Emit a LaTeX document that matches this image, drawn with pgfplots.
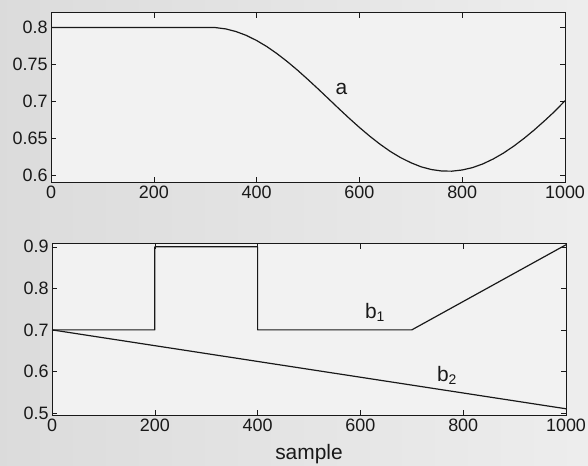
\documentclass[border=0pt]{standalone}
\usepackage{fontspec}
\setmainfont{Liberation Sans}
\usepackage{pgfplots}
\pgfplotsset{compat=1.18}

\definecolor{ink}{rgb}{0.1,0.1,0.1}
\definecolor{paperL}{rgb}{0.86,0.86,0.86}
\definecolor{paperR}{rgb}{0.93,0.93,0.93}
\definecolor{panel}{rgb}{0.95,0.95,0.95}

\tikzset{
  curvelabel/.style={font=\fontsize{21}{24}\selectfont, text=ink},
  curve/.style={draw=ink, line width=1.2pt, line join=round, mark=none},
}

\pgfplotsset{
  panelaxis/.style={
    scale only axis,
    width=514bp,
    xmin=0, xmax=1000,
    xtick={0,200,...,1000},
    tick align=inside,
    major tick length=5bp,
    tick style={ink, line width=0.6pt},
    axis line style={ink, line width=0.8pt},
    tick label style={font=\fontsize{18}{21}\selectfont, text=ink},
    /pgf/number format/assume math mode=true,
    /pgf/number format/1000 sep={},
    scaled ticks=false,
    axis background/.style={fill=panel},
    clip=false,
  },
}

\newcommand{\sub}[1]{\raisebox{-3bp}{\fontsize{14}{14}\selectfont #1}}

\begin{document}
\begin{tikzpicture}[x=1bp,y=1bp]
\shade[left color=paperL, right color=paperR] (0,0) rectangle (588,-466);
\path[use as bounding box] (0,0) rectangle (588,-466);

% upper panel: parameter a
\begin{axis}[panelaxis,
  at={(51bp,-12.7bp)}, anchor=north west,
  height=169.6bp,
  ymin=0.59, ymax=0.82,
  ytick={0.6,0.65,0.7,0.75,0.8},
  yticklabels={0.6,0.65,0.7,0.75,0.8},
]
\addplot[curve] coordinates {
 (0,0.8) (300,0.8) (310,0.8) (320,0.7998) (340,0.7980) (360,0.7944)
 (380,0.7892) (400,0.7823) (420,0.7740) (440,0.7643) (460,0.7535)
 (480,0.7418) (500,0.7293) (520,0.7164) (540,0.7032) (560,0.6899)
 (580,0.6769) (600,0.6644) (620,0.6526) (640,0.6417) (660,0.6319)
 (680,0.6235) (700,0.6166) (720,0.6110) (740,0.6073) (760,0.6053)
 (780,0.6051) (800,0.6067) (820,0.6099) (840,0.6149) (860,0.6215)
 (880,0.6295) (900,0.6389) (920,0.6494) (940,0.6609) (960,0.6733)
 (980,0.6862) (1000,0.7006)
};
\node[curvelabel] at (axis cs:565,0.716) {a};
\end{axis}

% lower panel: parameters b1 and b2
\begin{axis}[panelaxis,
  at={(52bp,-243.5bp)}, anchor=north west,
  height=171.5bp,
  ymin=0.495, ymax=0.908,
  ytick={0.5,0.6,0.7,0.8,0.9},
  yticklabels={0.5,0.6,0.7,0.8,0.9},
  xlabel={sample},
  xlabel style={font=\fontsize{21}{24}\selectfont, text=ink,
    at={(axis description cs:0.5,0)}, anchor=base, yshift=-44bp},
]
\addplot[curve] coordinates {
 (0,0.7) (200,0.7) (200,0.9) (400,0.9) (400,0.7) (700,0.7) (1000,0.905)
};
\addplot[curve] coordinates {
 (0,0.7) (1000,0.51)
};
\node[curvelabel] at (axis cs:628,0.742) {b\sub{1}};
\node[curvelabel] at (axis cs:768,0.59) {b\sub{2}};
\end{axis}
\end{tikzpicture}
\end{document}
